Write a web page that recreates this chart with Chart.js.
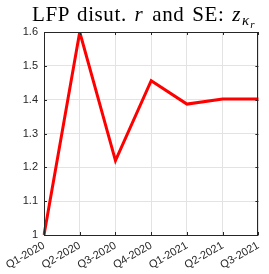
<!DOCTYPE html>
<html>
<head>
<meta charset="utf-8">
<script src="https://cdn.jsdelivr.net/npm/chart.js@4/dist/chart.umd.min.js"></script>
<style>
  html,body{margin:0;padding:0;background:#fff;}
  #wrap{position:relative;width:269px;height:274px;}
  #title{position:absolute;left:32px;top:1px;text-align:left;font-family:"Liberation Serif","DejaVu Serif",serif;font-size:21px;line-height:26px;color:#000;white-space:nowrap;word-spacing:2px;letter-spacing:0.6px;}
  #title i{padding-right:1px;}
  #title sub{font-size:15px;vertical-align:-4px;line-height:0;letter-spacing:0;}
  #title sub sub{font-size:11px;vertical-align:-3px;}
  canvas{position:absolute;left:0;top:0;}
</style>
</head>
<body>
<div id="wrap">
  <canvas id="c" width="269" height="274"></canvas>
  <div id="title">LFP disut. <i>r</i> and SE: <i>z</i><sub><i>κ</i><sub><i>r</i></sub></sub></div>
</div>
<script>
const categories = ["Q1-2020","Q2-2020","Q3-2020","Q4-2020","Q1-2021","Q2-2021","Q3-2021"];
const seriesValues = [1.0, 1.6, 1.22, 1.456, 1.387, 1.402, 1.402];
const yTicks = [1, 1.1, 1.2, 1.3, 1.4, 1.5, 1.6];

const AX = '#262626';
const boxPlugin = {
  id: 'box',
  afterDatasetsDraw(chart) {
    const {ctx, chartArea: a, scales} = chart;
    ctx.save();
    ctx.strokeStyle = AX;
    ctx.lineWidth = 1;
    ctx.beginPath();
    ctx.rect(Math.round(a.left)+0.5, Math.round(a.top)+0.5, Math.round(a.right-a.left)-1, Math.round(a.bottom-a.top));
    ctx.stroke();
    const tl = 3;
    ctx.beginPath();
    scales.x.ticks.forEach((t,i)=>{
      const x = Math.round(scales.x.getPixelForTick(i))+0.5;
      ctx.moveTo(x, a.bottom); ctx.lineTo(x, a.bottom-tl);
      ctx.moveTo(x, a.top); ctx.lineTo(x, a.top+tl);
    });
    yTicks.forEach(v=>{
      const y = Math.round(scales.y.getPixelForValue(v))+0.5;
      ctx.moveTo(a.left, y); ctx.lineTo(a.left+tl, y);
      ctx.moveTo(a.right, y); ctx.lineTo(a.right-tl, y);
    });
    ctx.stroke();
    ctx.restore();
  }
};

new Chart(document.getElementById('c'), {
  type: 'line',
  data: {
    labels: categories,
    datasets: [{
      data: seriesValues,
      borderColor: '#ff0000',
      borderWidth: 3,
      pointRadius: 0,
      tension: 0,
      fill: false
    }]
  },
  options: {
    responsive: false,
    animation: false,
    devicePixelRatio: 1,
    layout: {padding: {top: 32, right: 9, left: 0, bottom: 0}},
    plugins: {legend: {display: false}, tooltip: {enabled: false}, title: {display: false}},
    scales: {
      x: {
        offset: false,
        grid: {color: '#e3e3e3', drawTicks: false, lineWidth: 1},
        border: {display: false},
        ticks: {
          color: AX, padding: 4, autoSkip: false,
          maxRotation: 30, minRotation: 30,
          font: {family: 'Liberation Sans, Arial, sans-serif', size: 11}
        },
        afterFit(s){ s.height = 39; }
      },
      y: {
        min: 1, max: 1.6,
        afterBuildTicks(s){ s.ticks = yTicks.map(v=>({value:v})); },
        grid: {color: '#e3e3e3', drawTicks: false, lineWidth: 1},
        border: {display: false},
        ticks: {
          color: AX, padding: 6,
          font: {family: 'Liberation Sans, Arial, sans-serif', size: 11},
          callback: v => String(Math.round(v*10)/10)
        },
        afterFit(s){ s.width = 44; }
      }
    }
  },
  plugins: [boxPlugin]
});
</script>
</body>
</html>
